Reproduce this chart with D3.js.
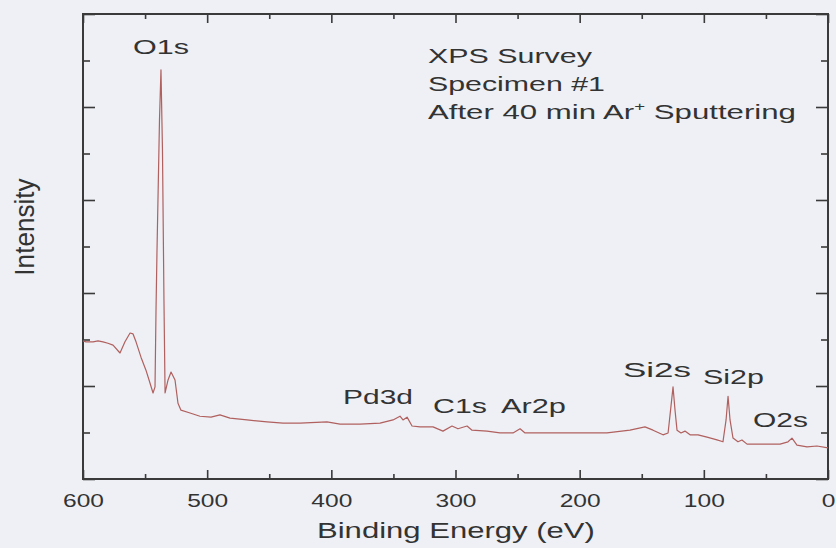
<!DOCTYPE html>
<html lang="en">
<head>
<meta charset="UTF-8">
<title>XPS Survey</title>
<script src="https://d3js.org/d3.v7.min.js"></script>
<style>
  body { margin: 0; background: #eef0f5; }
  svg { display: block; font-family: "Liberation Sans", Arial, sans-serif; }
  .axis path, .axis line { stroke: #3a3a3a; }
  .axis text { fill: #333; font-size: 18px; }
  .lbl { fill: #333; }
</style>
</head>
<body>
<div id="chart"></div>
<script>
// binding energy (eV) and intensity (arb. units)
const energy = [600, 597.6, 591.9, 587.9, 583.9, 579.9, 575.8, 570.2, 566.2, 562.1, 559.7, 557.3,
  553.3, 549.3, 546.0, 543.6, 542.0, 541.2, 540.4, 538.4, 537.2, 536.0, 534.8, 533.9, 531.5,
  529.1, 525.9, 523.5, 521.1, 513.8, 505.8, 496.9, 489.7, 481.6, 467.9, 451.8, 438.9, 425.2,
  403.5, 393.0, 376.9, 360.8, 350.3, 344.7, 342.3, 339.0, 335.0, 328.6, 318.1, 310.1, 302.8,
  298.0, 290.7, 286.7, 274.6, 264.2, 253.7, 248.0, 244.0, 232.0, 210.2, 194.1, 178.0, 159.5,
  147.4, 140.9, 132.9, 128.8, 126.8, 124.8, 123.2, 121.6, 118.4, 115.2, 111.1, 104.7, 97.4,
  89.4, 84.6, 82.1, 80.5, 78.9, 76.5, 72.5, 69.3, 65.2, 54.8, 38.6, 32.2, 29.0, 25.0, 16.9, 8.9, 0];
const intensity = [2.97, 2.95, 2.95, 2.97, 2.95, 2.92, 2.88, 2.71, 2.95, 3.14, 3.12, 2.95,
  2.62, 2.34, 2.06, 1.85, 1.98, 3.63, 4.92, 7.72, 8.80, 7.08, 3.85, 1.85, 2.13,
  2.30, 2.13, 1.63, 1.48, 1.42, 1.35, 1.33, 1.38, 1.31, 1.27, 1.23, 1.20, 1.20,
  1.23, 1.18, 1.18, 1.20, 1.27, 1.35, 1.27, 1.33, 1.14, 1.12, 1.12, 1.03, 1.14,
  1.08, 1.14, 1.05, 1.03, 0.99, 0.99, 1.08, 0.99, 0.99, 0.99, 0.99, 0.99, 1.05,
  1.12, 1.05, 0.95, 0.99, 1.48, 1.98, 1.48, 1.05, 0.99, 1.03, 0.95, 0.95, 0.90,
  0.84, 0.80, 1.27, 1.78, 1.27, 0.88, 0.80, 0.84, 0.75, 0.75, 0.75, 0.80, 0.88, 0.73, 0.69, 0.71, 0.67];

const peakNames = ["O1s", "Pd3d", "C1s", "Ar2p", "Si2s", "Si2p", "O2s"];
const peakLabelE = [559.7, 390.6, 318.1, 263.4, 165.1, 100.7, 60.4]; // label left edge, eV
const peakLabelI = [9.14, 1.61, 1.42, 1.42, 2.19, 2.04, 1.12];      // label baseline
const peakLabelW = [56, 70, 54, 65, 68, 61, 55];

const xTicks = [600, 500, 400, 300, 200, 100, 0];
const xMinor = [550, 450, 350, 250, 150, 50];
const yMajor = [0, 2, 4, 6, 8, 10];
const yMinor = [1, 3, 5, 7, 9];

const noteLines = ["XPS Survey", "Specimen #1", "After 40 min Ar"];
const W = 836, H = 548;
const margin = {top: 14, right: 8, bottom: 69, left: 83};
const width = W - margin.left - margin.right, height = H - margin.top - margin.bottom;

const x = d3.scaleLinear().domain([600, 0]).range([0, width]);
const y = d3.scaleLinear().domain([0, 10]).range([height, 0]);

const svg = d3.select("#chart").append("svg").attr("width", W).attr("height", H);
const g = svg.append("g").attr("transform", `translate(${margin.left},${margin.top})`);

// stretch a text horizontally to a given width
function fit(t, w) {
  const bw = t.node().getBBox().width;
  const s = w / bw;
  const tr = t.attr("transform") || "";
  t.attr("transform", tr + ` scale(${s},1)`);
}

// axes: bottom/top with major and minor ticks pointing inward
const xb = g.append("g").attr("class", "axis").attr("transform", `translate(0,${height})`)
  .call(d3.axisBottom(x).tickValues(xTicks).tickSizeInner(-9).tickSizeOuter(0));
g.append("g").attr("class", "axis").attr("transform", `translate(0,${height})`)
  .call(d3.axisBottom(x).tickValues(xMinor).tickSizeInner(-5).tickSizeOuter(0).tickFormat(""));
g.append("g").attr("class", "axis")
  .call(d3.axisTop(x).tickValues(xTicks).tickSizeInner(-9).tickSizeOuter(0).tickFormat(""));
g.append("g").attr("class", "axis")
  .call(d3.axisTop(x).tickValues(xMinor).tickSizeInner(-5).tickSizeOuter(0).tickFormat(""));
g.append("g").attr("class", "axis")
  .call(d3.axisLeft(y).tickValues(yMajor).tickSizeInner(-12).tickSizeOuter(0).tickFormat(""));
g.append("g").attr("class", "axis")
  .call(d3.axisLeft(y).tickValues(yMinor).tickSizeInner(-7).tickSizeOuter(0).tickFormat(""));
g.append("g").attr("class", "axis").attr("transform", `translate(${width},0)`)
  .call(d3.axisRight(y).tickValues(yMajor).tickSizeInner(-12).tickSizeOuter(0).tickFormat(""));
g.append("g").attr("class", "axis").attr("transform", `translate(${width},0)`)
  .call(d3.axisRight(y).tickValues(yMinor).tickSizeInner(-7).tickSizeOuter(0).tickFormat(""));
g.selectAll(".axis line").attr("stroke-width", 1.6);
g.selectAll(".axis .domain").remove();
g.append("rect").attr("width", width).attr("height", height)
  .attr("fill", "none").attr("stroke", "#3a3a3a").attr("stroke-width", 2);

const tickTexts = xb.selectAll("text").attr("dy", "0").attr("y", 28);
const refW = tickTexts.filter(d => d === 600).node().getBBox().width;
tickTexts.attr("transform", `scale(${41 / refW},1)`);

// spectrum
const pts = energy.map((e, i) => [e, intensity[i]]);
g.append("path").datum(pts)
  .attr("fill", "none").attr("stroke", "#b0605e").attr("stroke-width", 1.2)
  .attr("stroke-linejoin", "round")
  .attr("d", d3.line().x(d => x(d[0])).y(d => y(d[1])));

// peak labels
peakNames.forEach((n, i) => {
  const t = g.append("text").attr("class", "lbl").attr("font-size", 21)
    .attr("transform", `translate(${x(peakLabelE[i])},${y(peakLabelI[i])})`).text(n);
  fit(t, peakLabelW[i]);
});

// note block
const noteW = [164, 177, 368];
noteLines.forEach((s, i) => {
  const t = g.append("text").attr("class", "lbl").attr("font-size", 20)
    .attr("transform", `translate(345,${49 + i * 28})`).text(s);
  if (i === 2) {
    t.append("tspan").attr("font-size", 12).attr("dy", -8).text("+");
    t.append("tspan").attr("dy", 8).text(" Sputtering");
  }
  fit(t, noteW[i]);
});

// axis titles
const xt = svg.append("text").attr("class", "lbl").attr("font-size", 22)
  .attr("transform", "translate(317,538)").text("Binding Energy (eV)");
fit(xt, 278);
const yt = svg.append("text").attr("class", "lbl").attr("font-size", 21)
  .attr("text-anchor", "middle")
  .attr("transform", "translate(34,227) rotate(-90)").text("Intensity");
const yw = yt.node().getBBox().width;
yt.attr("transform", `translate(34,227) rotate(-90) scale(${98 / yw},1.3)`);
</script>
</body>
</html>
